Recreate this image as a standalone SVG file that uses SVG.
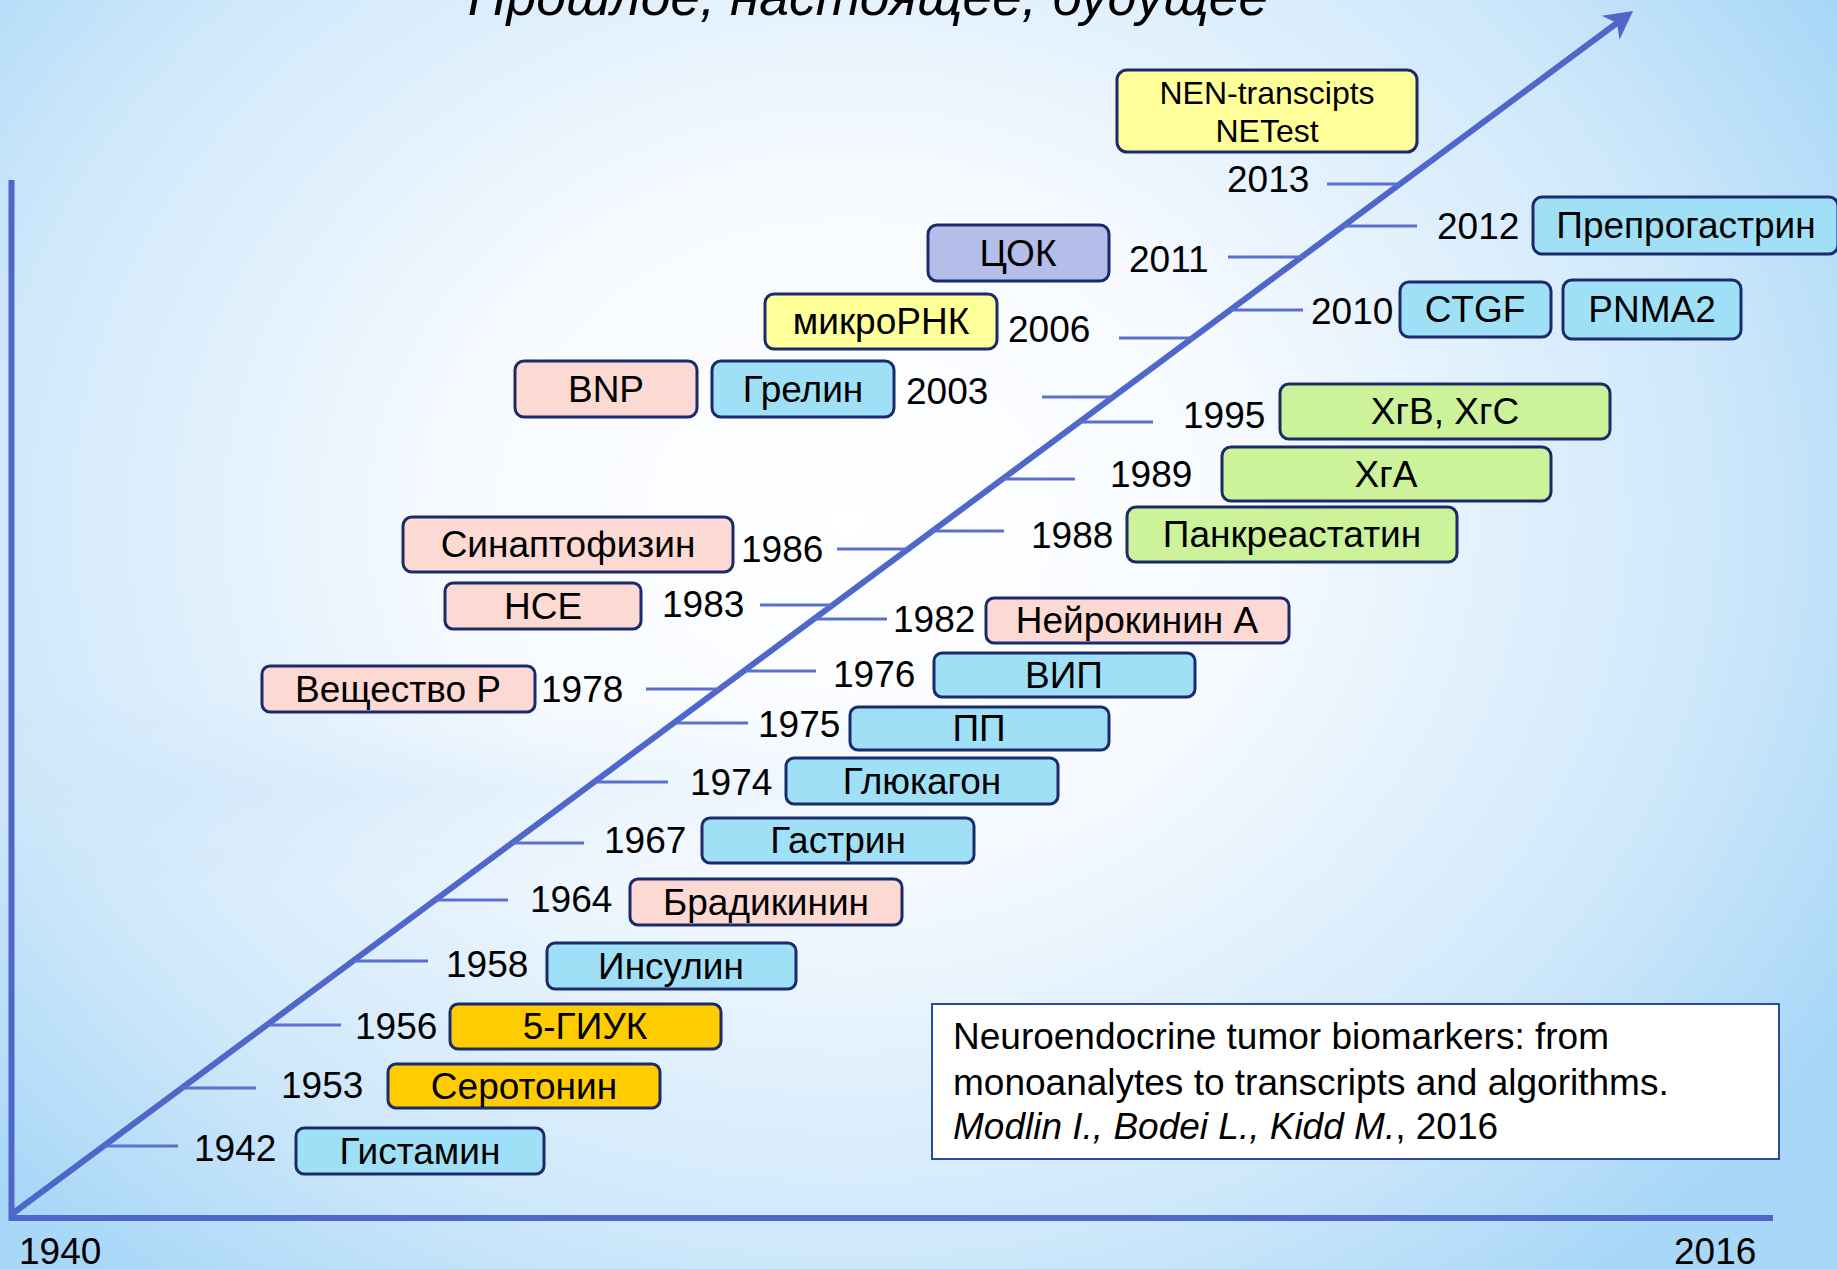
<svg xmlns="http://www.w3.org/2000/svg" width="1837" height="1269" viewBox="0 0 1837 1269">
<defs>
<radialGradient id="bg" cx="850" cy="520" r="1150" gradientUnits="userSpaceOnUse" gradientTransform="translate(850 520) scale(1 0.85) translate(-850 -520)">
<stop offset="0" stop-color="#ffffff"/>
<stop offset="0.35" stop-color="#f6faff"/>
<stop offset="0.75" stop-color="#cfe8fb"/>
<stop offset="1" stop-color="#a9d7f7"/>
</radialGradient>
<linearGradient id="band" x1="0" y1="0" x2="0" y2="1">
<stop offset="0" stop-color="#cfe7fa" stop-opacity="0"/>
<stop offset="0.5" stop-color="#cfe7fa" stop-opacity="0.7"/>
<stop offset="1" stop-color="#cfe7fa" stop-opacity="0"/>
</linearGradient>
<linearGradient id="bandfade" x1="0" y1="0" x2="1" y2="0">
<stop offset="0" stop-color="#fff" stop-opacity="1"/>
<stop offset="0.6" stop-color="#fff" stop-opacity="0"/>
</linearGradient>
<mask id="bandmask"><rect x="0" y="0" width="1837" height="1269" fill="url(#bandfade)"/></mask>
<marker id="arrow" viewBox="-10 -17 34 34" markerWidth="34" markerHeight="34" refX="0" refY="0" orient="auto" markerUnits="userSpaceOnUse">
<path d="M20,0 L-8,-15 L0,0 L-8,15 Z" fill="#4f67c8"/>
</marker>
<style>
text{font-family:"Liberation Sans",Arial,sans-serif;fill:#000;}
.lbl{font-size:37px;text-anchor:middle;}
.yr{font-size:37px;}
.box{stroke:#1b2a6b;stroke-width:3;}
.blue{fill:#9fe0f7;}
.pink{fill:#fcd9d3;}
.yellow{fill:#ffff99;}
.green{fill:#ccf399;}
.gold{fill:#ffcc00;}
.purple{fill:#b4bee8;}
.tick{stroke:#5a70cc;stroke-width:3;}
.axis{stroke:#4f67c8;stroke-width:6;fill:none;}
.cite{font-size:37px;}
</style>
</defs>
<rect x="0" y="0" width="1837" height="1269" fill="url(#bg)"/>
<rect x="0" y="700" width="1837" height="180" fill="url(#band)" mask="url(#bandmask)"/>

<text x="868" y="15" style="font-size:53.5px;font-style:italic;text-anchor:middle">Прошлое, настоящее, будущее</text>

<g id="connectors">
<line class="axis" x1="11.5" y1="180" x2="11.5" y2="1221"/>
<line class="axis" x1="9" y1="1218" x2="1773" y2="1218"/>
<line class="axis" x1="12" y1="1214" x2="1617" y2="23" marker-end="url(#arrow)"/>
<line class="tick" x1="104" y1="1146" x2="178" y2="1146"/>
<line class="tick" x1="182" y1="1088" x2="256" y2="1088"/>
<line class="tick" x1="268" y1="1025" x2="341" y2="1025"/>
<line class="tick" x1="354" y1="961" x2="428" y2="961"/>
<line class="tick" x1="435" y1="900" x2="508" y2="900"/>
<line class="tick" x1="512" y1="843" x2="584" y2="843"/>
<line class="tick" x1="596" y1="782" x2="668" y2="782"/>
<line class="tick" x1="676" y1="723" x2="748" y2="723"/>
<line class="tick" x1="746" y1="671" x2="816" y2="671"/>
<line class="tick" x1="646" y1="689" x2="720" y2="689"/>
<line class="tick" x1="814" y1="619" x2="887" y2="619"/>
<line class="tick" x1="760" y1="605" x2="833" y2="605"/>
<line class="tick" x1="837" y1="549" x2="908" y2="549"/>
<line class="tick" x1="932" y1="531" x2="1004" y2="531"/>
<line class="tick" x1="1003" y1="479" x2="1075" y2="479"/>
<line class="tick" x1="1079" y1="422" x2="1153" y2="422"/>
<line class="tick" x1="1042" y1="397" x2="1113" y2="397"/>
<line class="tick" x1="1119" y1="338" x2="1193" y2="338"/>
<line class="tick" x1="1230" y1="310" x2="1303" y2="310"/>
<line class="tick" x1="1228" y1="257" x2="1302" y2="257"/>
<line class="tick" x1="1344" y1="226" x2="1417" y2="226"/>
<line class="tick" x1="1327" y1="184" x2="1400" y2="184"/>
</g>

<g id="e1942"><text class="yr" x="194" y="1161">1942</text><rect class="box blue" x="296" y="1128" width="248" height="46" rx="8"/><text class="lbl" x="420" y="1164">Гистамин</text></g>
<g id="e1953"><text class="yr" x="281" y="1098">1953</text><rect class="box gold" x="388" y="1064" width="272" height="44" rx="8"/><text class="lbl" x="524" y="1099">Серотонин</text></g>
<g id="e1956"><text class="yr" x="355" y="1039">1956</text><rect class="box gold" x="450" y="1004" width="271" height="45" rx="8"/><text class="lbl" x="585" y="1039">5-ГИУК</text></g>
<g id="e1958"><text class="yr" x="446" y="977">1958</text><rect class="box blue" x="547" y="943" width="249" height="46" rx="8"/><text class="lbl" x="671" y="979">Инсулин</text></g>
<g id="e1964"><text class="yr" x="530" y="912">1964</text><rect class="box pink" x="630" y="879" width="272" height="46" rx="8"/><text class="lbl" x="766" y="915">Брадикинин</text></g>
<g id="e1967"><text class="yr" x="604" y="853">1967</text><rect class="box blue" x="702" y="818" width="272" height="45" rx="8"/><text class="lbl" x="838" y="853">Гастрин</text></g>
<g id="e1974"><text class="yr" x="690" y="795">1974</text><rect class="box blue" x="786" y="758" width="272" height="46" rx="8"/><text class="lbl" x="922" y="794">Глюкагон</text></g>
<g id="e1975"><text class="yr" x="758" y="737">1975</text><rect class="box blue" x="850" y="707" width="259" height="43" rx="8"/><text class="lbl" x="979" y="741">ПП</text></g>
<g id="e1976"><text class="yr" x="833" y="687">1976</text><rect class="box blue" x="934" y="653" width="261" height="44" rx="8"/><text class="lbl" x="1064" y="688">ВИП</text></g>
<g id="e1978"><rect class="box pink" x="262" y="666" width="273" height="46" rx="8"/><text class="lbl" x="398" y="702">Вещество Р</text><text class="yr" x="541" y="702">1978</text></g>
<g id="e1982"><text class="yr" x="893" y="632">1982</text><rect class="box pink" x="986" y="598" width="303" height="45" rx="8"/><text class="lbl" x="1137" y="633">Нейрокинин А</text></g>
<g id="e1983"><rect class="box pink" x="445" y="583" width="196" height="46" rx="8"/><text class="lbl" x="543" y="619">НСЕ</text><text class="yr" x="662" y="617">1983</text></g>
<g id="e1986"><rect class="box pink" x="403" y="517" width="330" height="55" rx="9"/><text class="lbl" x="568" y="557">Синаптофизин</text><text class="yr" x="741" y="562">1986</text></g>
<g id="e1988"><text class="yr" x="1031" y="548">1988</text><rect class="box green" x="1127" y="507" width="330" height="55" rx="9"/><text class="lbl" x="1292" y="547">Панкреастатин</text></g>
<g id="e1989"><text class="yr" x="1110" y="487">1989</text><rect class="box green" x="1222" y="447" width="329" height="54" rx="9"/><text class="lbl" x="1386" y="487">ХгА</text></g>
<g id="e1995"><text class="yr" x="1183" y="428">1995</text><rect class="box green" x="1280" y="384" width="330" height="55" rx="9"/><text class="lbl" x="1445" y="424">ХгВ, ХгС</text></g>
<g id="e2003"><rect class="box pink" x="515" y="361" width="182" height="56" rx="9"/><text class="lbl" x="606" y="402">BNP</text><rect class="box blue" x="712" y="361" width="182" height="56" rx="9"/><text class="lbl" x="803" y="402">Грелин</text><text class="yr" x="906" y="404">2003</text></g>
<g id="e2006"><rect class="box yellow" x="765" y="294" width="232" height="55" rx="9"/><text class="lbl" x="881" y="334">микроРНК</text><text class="yr" x="1008" y="342">2006</text></g>
<g id="e2010"><text class="yr" x="1311" y="324">2010</text><rect class="box blue" x="1400" y="282" width="151" height="55" rx="9"/><text class="lbl" x="1475" y="322">CTGF</text><rect class="box blue" x="1563" y="280" width="178" height="59" rx="9"/><text class="lbl" x="1652" y="322">PNMA2</text></g>
<g id="e2011"><rect class="box purple" x="928" y="225" width="181" height="56" rx="9"/><text class="lbl" x="1018" y="266">ЦОК</text><text class="yr" x="1129" y="272">2011</text></g>
<g id="e2012"><text class="yr" x="1437" y="239">2012</text><rect class="box blue" x="1533" y="197" width="305" height="57" rx="9"/><text class="lbl" x="1686" y="238">Препрогастрин</text></g>
<g id="e2013"><rect class="box yellow" x="1117" y="70" width="300" height="82" rx="10"/><text x="1267" y="104" style="font-size:32px;text-anchor:middle">NEN-transcipts</text><text x="1267" y="142" style="font-size:32px;text-anchor:middle">NETest</text><text class="yr" x="1227" y="192">2013</text></g>

<g id="citation">
<rect x="932" y="1004" width="847" height="155" fill="#ffffff" stroke="#2a4aa8" stroke-width="2"/>
<text class="cite" x="953" y="1049">Neuroendocrine tumor biomarkers: from</text>
<text class="cite" x="953" y="1095">monoanalytes to transcripts and algorithms.</text>
<text class="cite" x="953" y="1139"><tspan font-style="italic">Modlin I., Bodei L., Kidd M.</tspan>, 2016</text>
</g>
<g id="axis-labels">
<text x="19" y="1264" style="font-size:37px">1940</text>
<text x="1674" y="1264" style="font-size:37px">2016</text>
</g>
</svg>
